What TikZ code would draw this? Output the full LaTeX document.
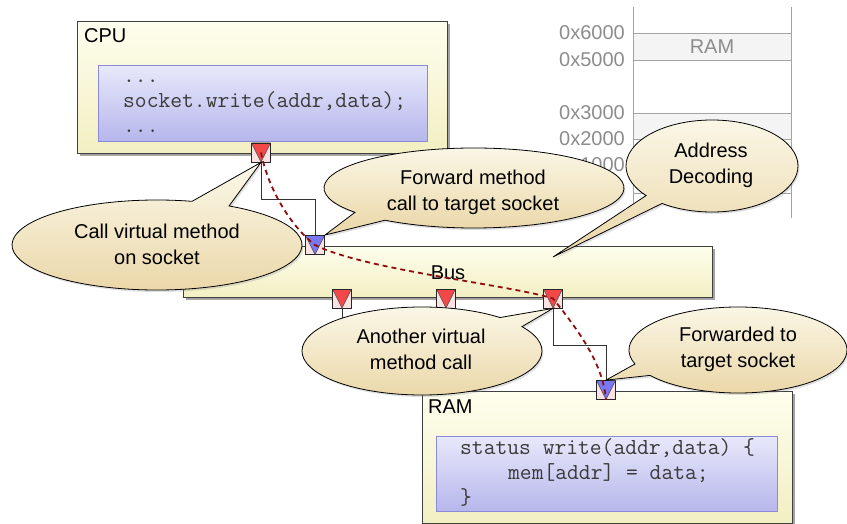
\documentclass[tikz,border=0pt]{standalone}
\usepackage{fontspec}
\setmainfont{Liberation Sans}
\usetikzlibrary{shadows}

\definecolor{boxtop}{HTML}{FEFEEE}
\definecolor{boxbot}{HTML}{F2EFC2}
\definecolor{codetop}{HTML}{E8E8FB}
\definecolor{codebot}{HTML}{B6B6EC}
\definecolor{codeedge}{HTML}{8A8AD8}
\definecolor{codeink}{HTML}{3A3A3A}
\definecolor{bubtop}{HTML}{FBF8E9}
\definecolor{bubbot}{HTML}{EAD6A6}
\definecolor{sockbg}{HTML}{FBE2E2}
\definecolor{initred}{HTML}{F24848}
\definecolor{targblue}{HTML}{7878F2}
\definecolor{flowred}{HTML}{8E0E0E}
\definecolor{mapline}{HTML}{A4A4A4}
\definecolor{mapfill}{HTML}{F4F4F4}
\definecolor{maptext}{HTML}{8C8C8C}

\tikzset{
  module/.style={draw=black!75, line width=0.8pt, top color=boxtop, bottom color=boxbot,
    inner sep=0, anchor=north west,
    drop shadow={shadow xshift=3pt, shadow yshift=-3pt, fill=black!45, opacity=0.8}},
  codebox/.style={draw=codeedge, line width=0.8pt, top color=codetop, bottom color=codebot,
    inner sep=0, anchor=north west},
  codetxt/.style={font=\ttfamily\fontsize{22.9}{25}\selectfont, text=codeink, inner sep=0, anchor=base west},
  modlabel/.style={font=\fontsize{20}{24}\selectfont, inner sep=0, anchor=base west},
  sock/.style={draw=black!85, line width=0.8pt, fill=sockbg, minimum size=19pt, inner sep=0,
    path picture={\filldraw[fill=#1, draw=black!70, line width=0.5pt]
      (path picture bounding box.north west) -- (path picture bounding box.north east)
      -- (path picture bounding box.south) -- cycle;}},
  bubble/.style={draw=black, line width=0.8pt, top color=bubtop, bottom color=bubbot,
    drop shadow={shadow xshift=1.5pt, shadow yshift=-2pt, opacity=0.25}},
  bubtext/.style={font=\fontsize{20}{26}\selectfont, align=center, inner sep=0},
  wire/.style={draw=black!80, line width=0.8pt},
  flow/.style={draw=flowred, line width=1.8pt, dash pattern=on 5pt off 4pt},
  mapln/.style={draw=mapline, line width=0.8pt},
  maplbl/.style={text=maptext, font=\fontsize{20}{24}\selectfont, inner sep=0, anchor=east},
}

% speech bubble: name, centre, x radius, y radius, arc start, arc end, tip, text position, text
\newcommand\speechbubble[9]{%
  \path[bubble] (#2) ++(#5:#3 and #4)
    arc[start angle=#5, end angle=#6, x radius=#3, y radius=#4] -- (#7) -- cycle;
  \node[bubtext] (#1) at (#8) {#9};
}

\begin{document}
\begin{tikzpicture}[x=1pt, y=-1pt]
\useasboundingbox (0,0) rectangle (847,524);

% address map
\fill[mapfill] (633,33) rectangle (791,60);
\fill[mapfill] (633,113) rectangle (791,139);
\draw[mapln] (633,7) -- (633,218);
\draw[mapln] (791,7) -- (791,218);
\foreach \yy in {33,60,113,139,165,193}
  \draw[mapln] (633,\yy) -- (791,\yy);
\node[maplbl] (a6) at (625,33) {0x6000};
\node[maplbl] (a5) at (625,60) {0x5000};
\node[maplbl] (a3) at (625,113) {0x3000};
\node[maplbl] (a2) at (625,139) {0x2000};
\node[maplbl] (a1) at (625,165) {0x1000};
\node[maplbl, anchor=center] (mapram) at (712,47) {RAM};

% CPU module
\node[module, minimum width=370pt, minimum height=132pt] (cpu) at (77,21) {};
\node[modlabel] (cpuname) at (84,43) {CPU};
\node[codebox, minimum width=329pt, minimum height=76pt] (cpucode) at (98,65) {};
\node[codetxt] (cpuc1) at (123,83) {...};
\node[codetxt] (cpuc2) at (123,108) {socket.write(addr,data);};
\node[codetxt] (cpuc3) at (123,133) {...};

% Bus module
\node[module, minimum width=529pt, minimum height=51pt] (bus) at (183,246) {};
\node[font=\fontsize{20}{24}\selectfont, inner sep=0] (busname) at (448,273) {Bus};

% RAM module
\node[module, minimum width=370pt, minimum height=132pt] (ram) at (422,391) {};
\node[modlabel] (ramname) at (428,413) {RAM};
\node[codebox, minimum width=341pt, minimum height=75pt] (ramcode) at (436,436) {};
\node[codetxt] (ramc1) at (460,454) {status write(addr,data) \{};
\node[codetxt] (ramc2) at (508,479) {mem[addr] = data;};
\node[codetxt] (ramc3) at (460,504) {\}};

% sockets
\node[sock=initred] (cpus) at (261,152.5) {};
\node[sock=targblue] (busts) at (315,245) {};
\node[sock=initred] (busi1) at (342,298.5) {};
\node[sock=initred] (busi2) at (446,298.5) {};
\node[sock=initred] (busi3) at (553,298.5) {};
\node[sock=targblue] (rams) at (606,390) {};

% bindings
\draw[wire] (cpus.south) -- ++(0,37) -| (busts.north);
\draw[wire] (busi3.south) -- ++(0,37) -| (rams.north);
\draw[wire] (busi1.south) -- ++(0,20);

% call path
\draw[flow] (cpus.center) .. controls +(8,40) and +(-22,-17) .. (busts.center)
  .. controls +(50,25) and +(-45,-14) .. (busi3.center)
  .. controls +(28,35) and +(-3,-35) .. (rams.south);

% annotations
\coordinate (decode) at (553,257);
\speechbubble{callA}{157,245}{145}{45}{-60.2}{284}{cpus.south}{157,244}{Call virtual method\\on socket}
\speechbubble{callB}{474,188}{150}{40}{142.5}{486.4}{busts.north east}{473,192}{Forward method\\call to target socket}
\speechbubble{callC}{712,166}{86}{46}{140}{485.5}{decode}{711,165}{Address\\Decoding}
\speechbubble{callD}{422,351}{120}{44}{-33.6}{310.5}{busi3.south}{421,349}{Another virtual\\method call}
\speechbubble{callE}{738,350}{109}{43}{161}{503.8}{rams.north}{738,349}{Forwarded to\\target socket}
\end{tikzpicture}
\end{document}
